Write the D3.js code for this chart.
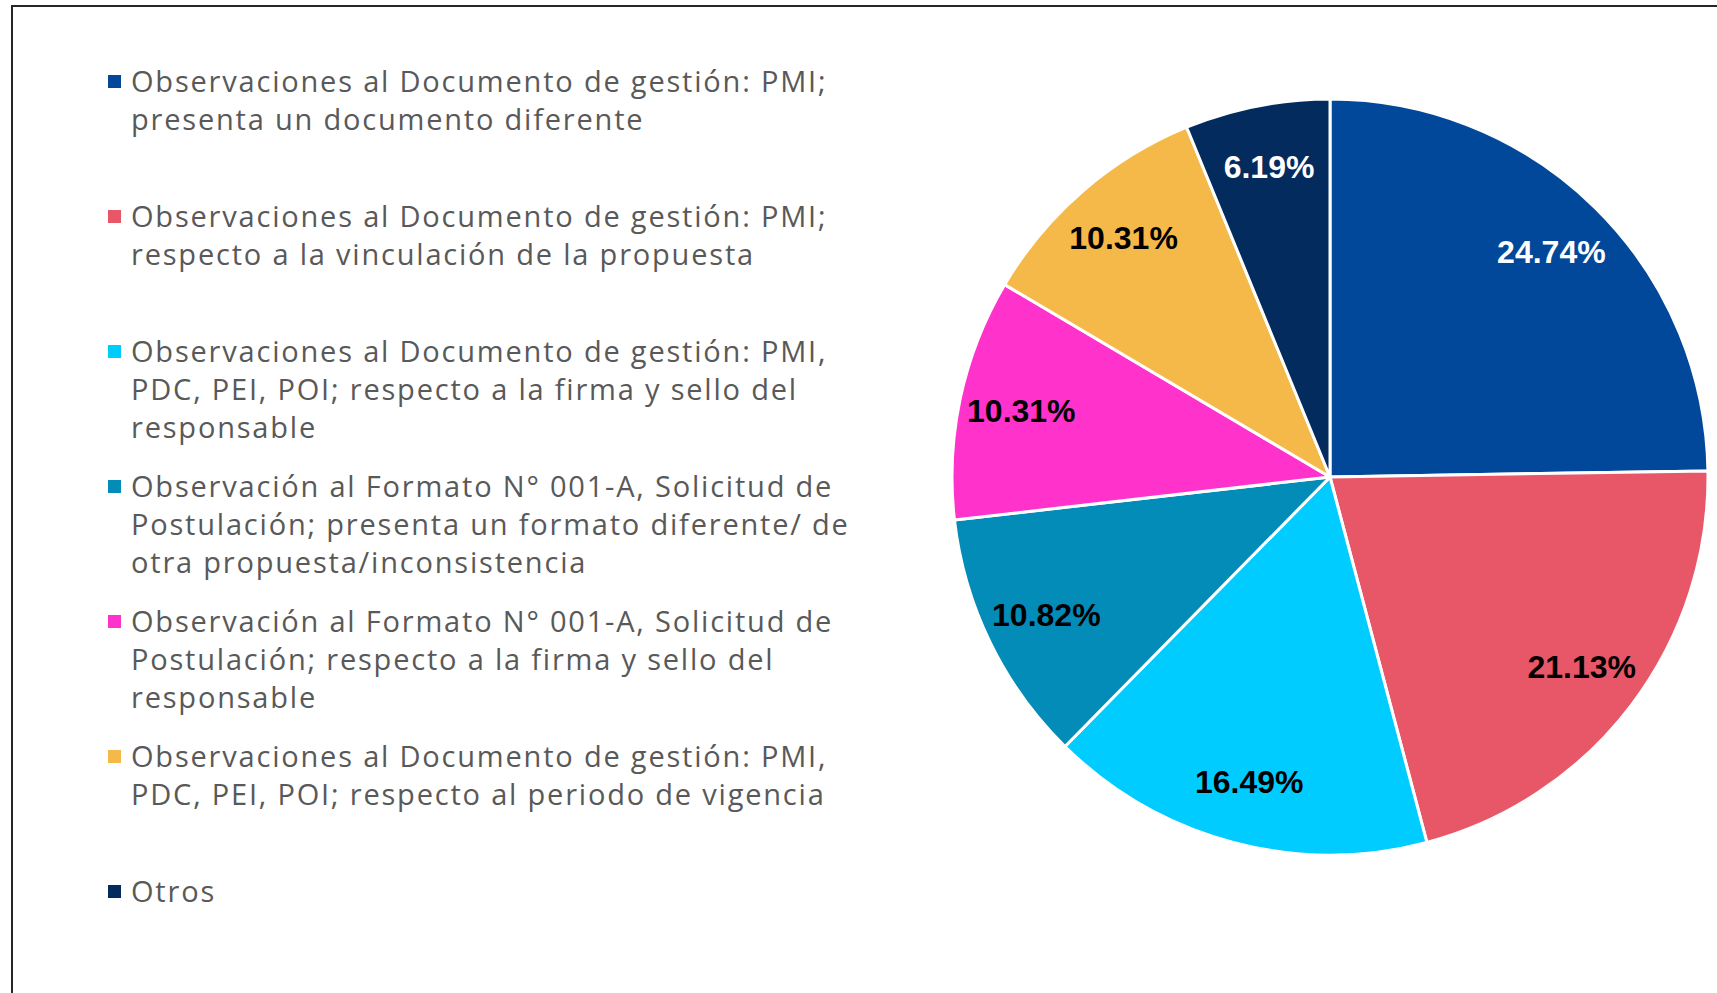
<!DOCTYPE html>
<html>
<head>
<meta charset="utf-8">
<script src="https://cdn.jsdelivr.net/npm/d3@7"></script>
<style>
    body { margin: 0; background: #fff; }
    svg { display: block; }
</style>
</head>
<body>
<div id="chart"></div>
<script>
const categories = [
    ["Observaciones al Documento de gestión: PMI;", "presenta un documento diferente"],
    ["Observaciones al Documento de gestión: PMI;", "respecto a la vinculación de la propuesta"],
    ["Observaciones al Documento de gestión: PMI,", "PDC, PEI, POI; respecto a la firma y sello del", "responsable"],
    ["Observación al Formato N° 001-A, Solicitud de", "Postulación; presenta un formato diferente/ de", "otra propuesta/inconsistencia"],
    ["Observación al Formato N° 001-A, Solicitud de", "Postulación; respecto a la firma y sello del", "responsable"],
    ["Observaciones al Documento de gestión: PMI,", "PDC, PEI, POI; respecto al periodo de vigencia"],
    ["Otros"],
];
const values = [24.74, 21.13, 16.49, 10.82, 10.31, 10.31, 6.19];
const colors = ["#02489A", "#E85768", "#00CCFF", "#038CB8", "#FF33CC", "#F5B94A", "#032B5E"];
const labelColors = ["#fff", "#000", "#000", "#000", "#000", "#000", "#fff"];

const ctx = {
    W: 1717,
    H: 993,
    cx: 1330,
    cy: 477,
    r: 378,
};

function drawFrame(svgEl) {
    svgEl
        .append("path")
        .attr("d", `M12,${ctx.H} L12,6 L${ctx.W},6`)
        .attr("fill", "none")
        .attr("stroke", "#262626")
        .attr("stroke-width", 2);
}

function drawPie(svgEl) {
    const data = values.map((v, i) => ({ value: v, idx: i }));
    const pie = d3.pie().sort(null).value((d) => d.value);
    const arcs = pie(data);

    const arc = d3.arc().innerRadius(0).outerRadius(ctx.r);
    const labelArc = d3
        .arc()
        .innerRadius(ctx.r * 0.835)
        .outerRadius(ctx.r * 0.835);

    const g = svgEl
        .append("g")
        .attr("transform", `translate(${ctx.cx}, ${ctx.cy})`);

    g.selectAll("path")
        .data(arcs)
        .enter()
        .append("path")
        .attr("d", arc)
        .attr("fill", (d) => colors[d.data.idx])
        .attr("stroke", "#fff")
        .attr("stroke-width", 3)
        .attr("stroke-linejoin", "round");

    g.selectAll("text")
        .data(arcs)
        .enter()
        .append("text")
        .attr("transform", (d) => `translate(${labelArc.centroid(d)})`)
        .attr("text-anchor", "middle")
        .attr("dominant-baseline", "central")
        .style("font-family", "'Liberation Sans', Arial, sans-serif")
        .style("font-weight", "bold")
        .style("font-size", "32px")
        .attr("fill", (d) => labelColors[d.data.idx])
        .text((d) => d.data.value.toFixed(2) + "%");
}

function drawLegend(svgEl) {
    const top = 80;
    const step = 135;
    const lineH = 38.3;

    const legend = svgEl.append("g").attr("id", "legend");

    const items = legend
        .selectAll("g")
        .data(categories)
        .enter()
        .append("g")
        .attr("transform", (d, i) => `translate(0, ${top + i * step})`);

    items
        .append("rect")
        .attr("x", 108)
        .attr("y", -5)
        .attr("width", 13)
        .attr("height", 13)
        .attr("fill", (d, i) => colors[i]);

    items
        .append("text")
        .style("font-family", "'Open Sans', sans-serif")
        .style("font-size", "29px")
        .style("letter-spacing", "1.8px")
        .attr("fill", "#595959")
        .selectAll("tspan")
        .data((d) => d)
        .enter()
        .append("tspan")
        .attr("x", 131)
        .attr("y", (d, j) => j * lineH)
        .attr("dominant-baseline", "central")
        .text((d) => d);
}

function createViz() {
    const svgEl = d3
        .select("#chart")
        .append("svg")
        .attr("width", ctx.W)
        .attr("height", ctx.H);
    drawFrame(svgEl);
    drawLegend(svgEl);
    drawPie(svgEl);
}

createViz();
</script>
</body>
</html>
